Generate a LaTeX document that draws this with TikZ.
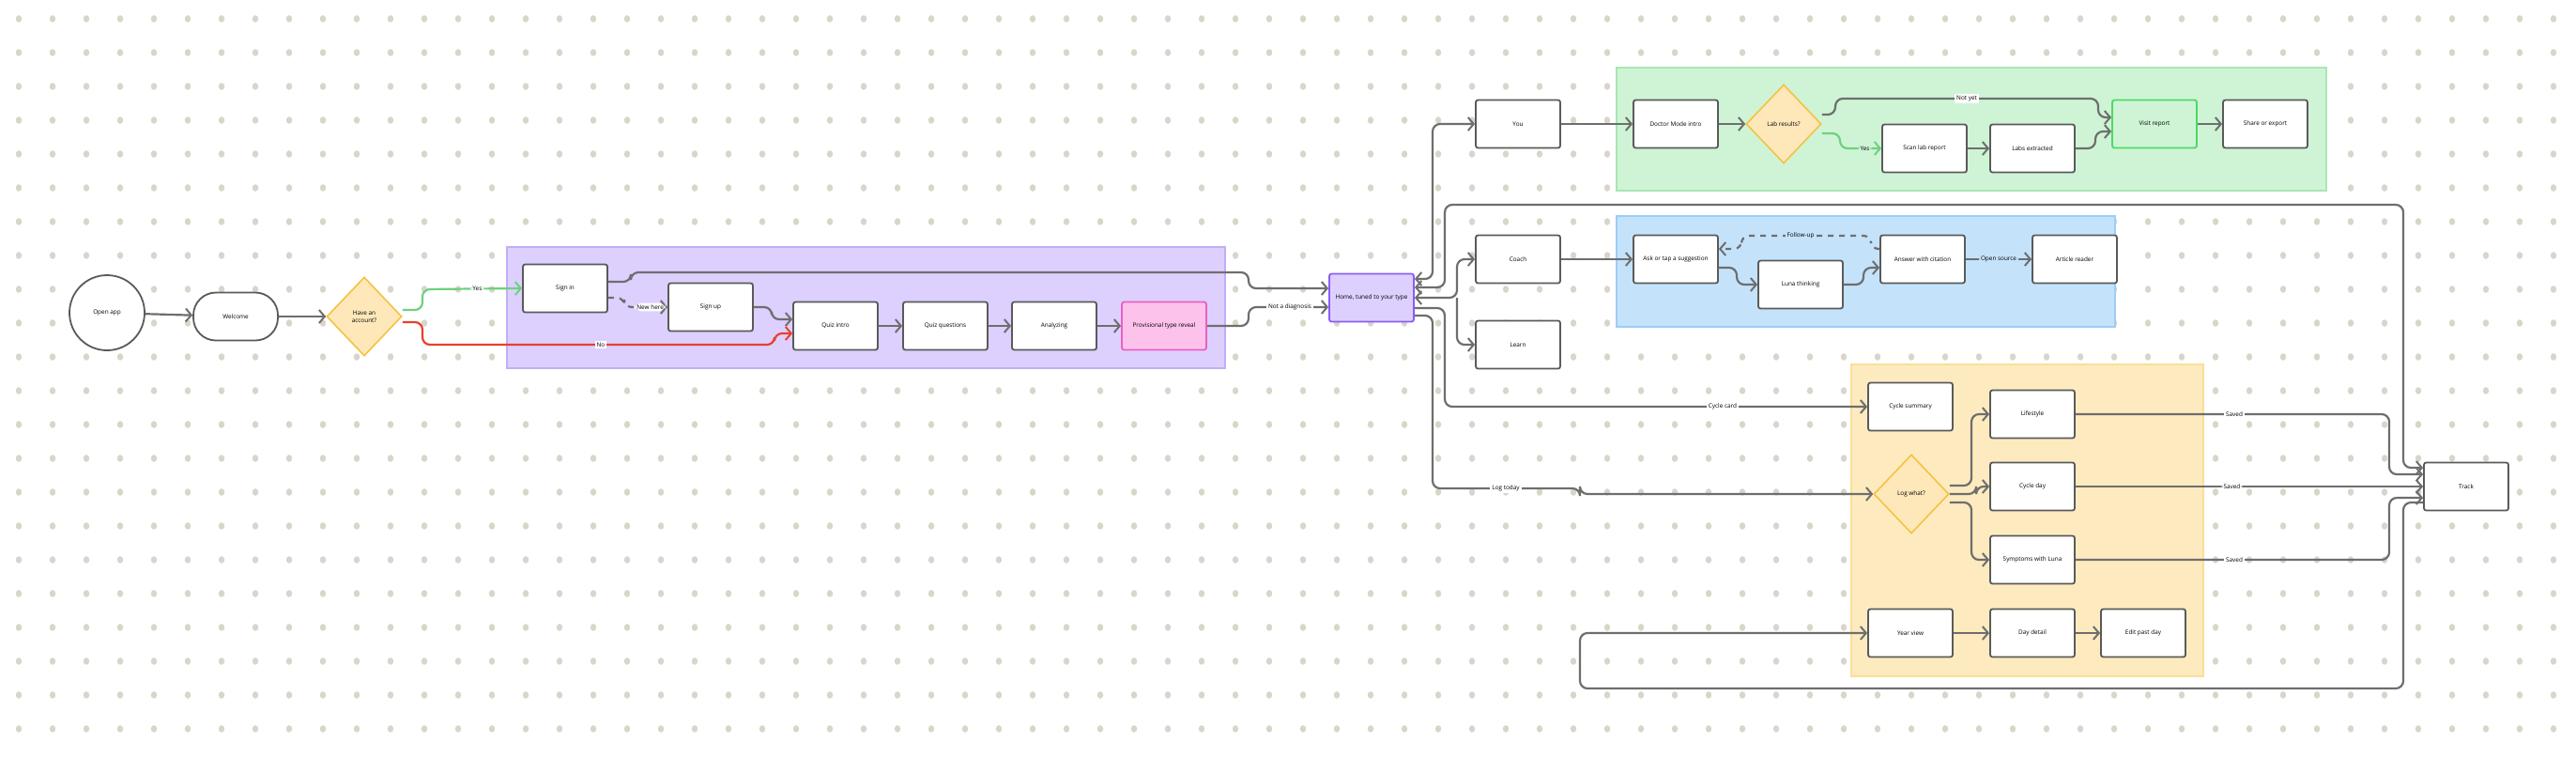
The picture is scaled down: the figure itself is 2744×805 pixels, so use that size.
\documentclass[tikz,border=0pt]{standalone}
\usepackage{fontspec}
\setmainfont{Open Sans}
\usetikzlibrary{shapes.geometric,arrows.meta}
\definecolor{linec}{HTML}{6E6E6E}
\definecolor{boxc}{HTML}{5A5A5A}
\definecolor{dotc}{HTML}{D9D5CB}
\definecolor{purf}{HTML}{DDD0FF}\definecolor{purd}{HTML}{C2AEF5}
\definecolor{grnf}{HTML}{CEF4D5}\definecolor{grnd}{HTML}{A9E6B5}
\definecolor{bluf}{HTML}{C4E3FB}\definecolor{blud}{HTML}{9DCDF4}
\definecolor{yelf}{HTML}{FDEBBF}\definecolor{yeld}{HTML}{FADF98}
\definecolor{diaf}{HTML}{FEE8BA}\definecolor{diad}{HTML}{F5C242}
\definecolor{pinkf}{HTML}{FDC2EB}\definecolor{pinkd}{HTML}{EC5FC0}
\definecolor{homed}{HTML}{8B5CF6}
\definecolor{okc}{HTML}{6FD080}\definecolor{noc}{HTML}{E8412C}
\definecolor{visd}{HTML}{4CD964}
\begin{document}
\begin{tikzpicture}[x=0.5pt,y=-0.5pt,
  txt/.style={font=\fontsize{3.2pt}{4pt}\selectfont},
  box/.style={txt,draw=boxc,fill=white,line width=0.9pt,rounded corners=1.2pt,minimum width=45pt,minimum height=25.5pt,inner sep=1pt,align=center},
  dia/.style={txt,diamond,draw=diad,fill=diaf,line width=0.8pt,minimum width=40pt,minimum height=42pt,inner sep=0pt,align=center},
  region/.style={line width=0.6pt},
  edge/.style={draw=linec,line width=1.1pt,rounded corners=4pt,-{Straight Barb[length=3pt,width=7pt,line width=1pt]}},
  both/.style={edge,{Straight Barb[length=3pt,width=7pt,line width=1pt]}-{Straight Barb[length=3pt,width=7pt,line width=1pt]}},
  lbl/.style={txt,fill=white,inner sep=1pt}]
\useasboundingbox (0,0) rectangle (2744,805);
\fill[white] (0,0) rectangle (2744,805);
\foreach \i in {0,...,75}{\foreach \j in {0,...,21}{
  \fill[dotc] (20+36*\i,20+36*\j) ellipse [x radius=1.6pt,y radius=1.9pt];}}
% regions
\draw[region,fill=purf,draw=purd] (540,263) rectangle (1305,392);
\draw[region,fill=grnf,draw=grnd] (1722,72) rectangle (2478,203);
\draw[region,fill=bluf,draw=blud] (1722,230) rectangle (2253,348);
\draw[region,fill=yelf,draw=yeld] (1972,388) rectangle (2347,720);
% nodes
\node[txt,circle,draw=boxc,fill=white,line width=0.9pt,minimum size=40pt] (open) at (114,333) {Open app};
\node[box,rounded corners=12pt] (welcome) at (251,337) {Welcome};
\node[dia] (acct) at (388,337) {Have an\\account?};
\node[box] (signin) at (602,307) {Sign in};
\node[box] (signup) at (757,327) {Sign up};
\node[box] (quizintro) at (890,347) {Quiz intro};
\node[box] (quizq) at (1007,347) {Quiz questions};
\node[box] (analyzing) at (1123,347) {Analyzing};
\node[box,fill=pinkf,draw=pinkd] (prov) at (1240,347) {Provisional type reveal};
\node[box,fill=purf,draw=homed] (home) at (1461,317) {Home, tuned to your type};
\node[box] (you) at (1617,132) {You};
\node[box] (coach) at (1617,276) {Coach};
\node[box] (learn) at (1617,367) {Learn};
\node[box] (doctor) at (1785,132) {Doctor Mode intro};
\node[dia] (lab) at (1900,132) {Lab results?};
\node[box] (scan) at (2050,158) {Scan lab report};
\node[box] (labs) at (2165,158) {Labs extracted};
\node[box,fill=grnf,draw=visd] (visit) at (2295,132) {Visit report};
\node[box] (share) at (2413,132) {Share or export};
\node[box] (ask) at (1785,276) {Ask or tap a suggestion};
\node[box] (luna) at (1918,303) {Luna thinking};
\node[box] (answer) at (2048,276) {Answer with citation};
\node[box] (article) at (2210,276) {Article reader};
\node[box] (cyclesum) at (2035,433) {Cycle summary};
\node[dia] (logwhat) at (2036,526) {Log what?};
\node[box] (lifestyle) at (2165,441) {Lifestyle};
\node[box] (cycleday) at (2165,518) {Cycle day};
\node[box] (symptoms) at (2165,596) {Symptoms with Luna};
\node[box] (yearview) at (2035,674) {Year view};
\node[box] (daydetail) at (2165,674) {Day detail};
\node[box] (editpast) at (2283,674) {Edit past day};
\node[box] (track) at (2627,518) {Track};
% onboarding
\draw[edge] (open) -- (welcome);
\draw[edge] (welcome) -- (acct);
\draw[edge,draw=okc] ([yshift=3.5pt]acct.east) -- (450,330) -- (450,308) -- (signin.west) node[lbl,pos=0.55,text=black] {Yes};
\draw[edge,draw=noc] ([yshift=-3pt]acct.east) -- (450,343) -- (450,367) -- (825,367) -- (825,355) -- ([yshift=-4pt]quizintro.west);
\node[lbl] at (640,367) {No};
\draw[edge] ([yshift=3.5pt]signin.east) -- (672,300) -- (672,290) -- (1330,290) -- (1330,307) -- ([yshift=5pt]home.west);
\draw[edge,dashed] ([yshift=-5pt]signin.east) -- (665,317) -- (665,327) -- (signup.west) node[lbl,pos=0.6] {New here};
\draw[edge] (signup.east) -- (822,327) -- (822,340) -- ([yshift=3.5pt]quizintro.west);
\draw[edge] (quizintro) -- (quizq);
\draw[edge] (quizq) -- (analyzing);
\draw[edge] (analyzing) -- (prov);
\draw[edge] (prov.east) -- (1330,347) -- (1330,327) -- ([yshift=-5pt]home.west);
\node[lbl] at (1374,327) {Not a diagnosis};
% home hub
\draw[both] ([yshift=10pt]home.east) -- (1526,297) -- (1526,132) -- (you.west);
\draw[both] ([yshift=5.5pt]home.east) -- (1539,306) -- (1539,218) -- (2560,218) -- (2560,498) -- ([yshift=10pt]track.west);
\draw[both] (home.east) -- (1552,317) -- (1552,276) -- (coach.west);
\draw[edge] (1552,317) -- (1552,367) -- (learn.west);
\draw[edge] ([yshift=-5.5pt]home.east) -- (1539,328) -- (1539,433) -- (cyclesum.west);
\node[lbl] at (1835,433) {Cycle card};
\draw[edge] ([yshift=-9.5pt]home.east) -- (1526,336) -- (1526,520) -- (1683,520) -- (1683,526) -- (logwhat.west);
\node[lbl] at (1604,520) {Log today};
% doctor mode
\draw[edge] (you) -- (doctor);
\draw[edge] (doctor) -- (lab);
\draw[edge] ([yshift=5pt]lab.east) -- (1955,122) -- (1955,105) -- (2235,105) -- (2235,125) -- ([yshift=3.5pt]visit.west);
\node[lbl] at (2095,105) {Not yet};
\draw[edge,draw=okc] ([yshift=-5pt]lab.east) -- (1960,142) -- (1960,158) -- (scan.west) node[lbl,pos=0.6,fill=grnf,text=black] {Yes};
\draw[edge] (scan) -- (labs);
\draw[edge] (labs.east) -- (2232,158) -- (2232,140) -- ([yshift=-4pt]visit.west);
\draw[edge] (visit) -- (share);
% coach
\draw[edge] (coach) -- (ask);
\draw[edge] ([yshift=-4.5pt]ask.east) -- (1850,285) -- (1850,303) -- (luna.west);
\draw[edge] (luna.east) -- (1985,303) -- (1985,285) -- ([yshift=-4.5pt]answer.west);
\draw[edge,dashed] ([yshift=5.5pt]answer.west) -- (1993,265) -- (1993,251) -- (1855,251) -- (1855,265) -- ([yshift=5.5pt]ask.east);
\node[lbl,fill=bluf] at (1918,251) {Follow-up};
\draw[edge] (answer) -- (article) node[lbl,midway,fill=bluf] {Open source};
% track
\draw[edge] ([yshift=4.5pt]logwhat.east) -- (2100,517) -- (2100,441) -- (lifestyle.west);
\draw[edge] (logwhat.east) -- (2105,526) -- (2105,518) -- (cycleday.west);
\draw[edge] ([yshift=-4.5pt]logwhat.east) -- (2100,535) -- (2100,596) -- (symptoms.west);
\draw[edge] (lifestyle.east) -- (2545,441) -- (2545,505) -- ([yshift=6.5pt]track.west);
\node[lbl] at (2380,441) {Saved};
\draw[edge] (cycleday) -- (track) node[lbl,pos=0.45] {Saved};
\draw[edge] (symptoms.east) -- (2545,596) -- (2545,530) -- ([yshift=-6pt]track.west);
\node[lbl] at (2380,596) {Saved};
\draw[edge] ([yshift=-8.5pt]track.west) -- (2560,535) -- (2560,733) -- (1683,733) -- (1683,674) -- (yearview.west);
\draw[edge] (yearview) -- (daydetail);
\draw[edge] (daydetail) -- (editpast);
\end{tikzpicture}
\end{document}
